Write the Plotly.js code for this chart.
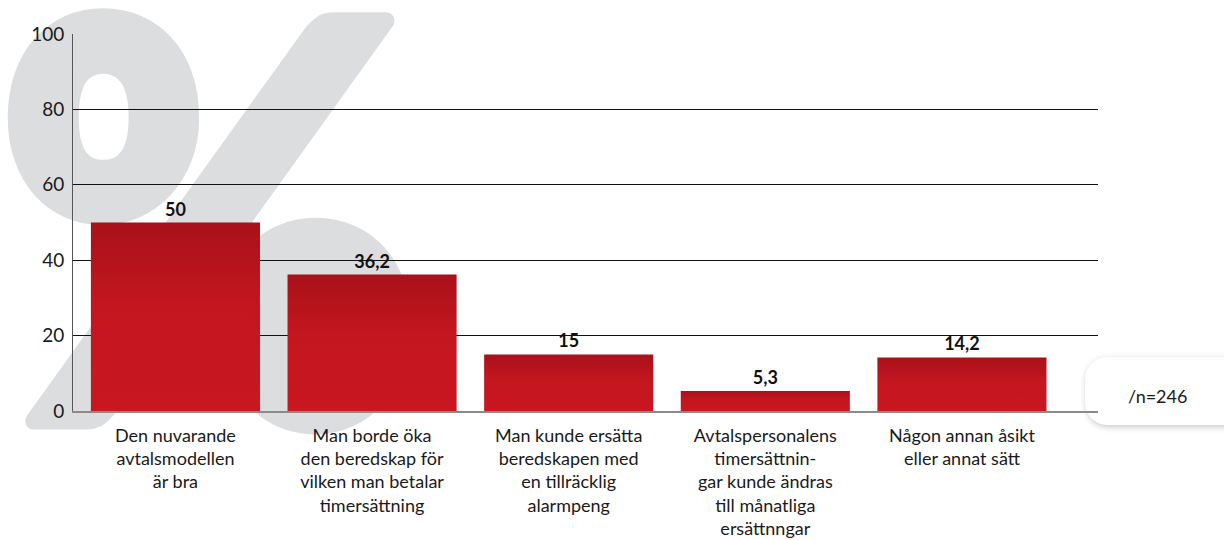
<!DOCTYPE html>
<html>
<head>
<meta charset="utf-8">
<script src="https://cdn.plot.ly/plotly-3.0.1.min.js"></script>
<style>
  html, body { margin: 0; padding: 0; background: #fff; }
  #wrap { position: relative; width: 1224px; height: 540px; overflow: hidden; background: #fff; }
  #wm { position: absolute; left: 0; top: 0; width: 1224px; height: 540px; z-index: 0; }
  #nbox { position: absolute; left: 1085px; top: 357px; width: 160px; height: 68px; border-radius: 22px;
          background: #fff; box-shadow: 1px 2px 6px rgba(0,0,0,0.22); z-index: 0; }
  #chart { position: absolute; left: 0; top: 0; width: 1224px; height: 540px; z-index: 1; }
</style>
</head>
<body>
<div id="wrap">
  <svg id="wm" xmlns="http://www.w3.org/2000/svg" width="1224" height="540"><text id="wmText" fill="#DCDDDE" stroke="#DCDDDE" stroke-linejoin="round">%</text></svg>
  <div id="nbox"></div>
  <div id="chart"></div>
</div>
<script>
const categories = [
  "Den nuvarande<br>avtalsmodellen<br>är bra",
  "Man borde öka<br>den beredskap för<br>vilken man betalar<br>timersättning",
  "Man kunde ersätta<br>beredskapen med<br>en tillräcklig<br>alarmpeng",
  "Avtalspersonalens<br>timersättnin-<br>gar kunde ändras<br>till månatliga<br>ersättnngar",
  "Någon annan åsikt<br>eller annat sätt"
];
const values = [50, 36.2, 15, 5.3, 14.2];
const valueLabels = ["50", "36,2", "15", "5,3", "14,2"];
const yTicks = [0, 20, 40, 60, 80, 100];
const nLabel = "/n=246";
const watermark = "%";

// Fit the decorative "%" glyph into its area behind the plot
(function () {
  const fam = "Lato, 'Open Sans', sans-serif";
  const weight = 900;
  const sw = 16; // stroke thickening
  const box = { x0: 5 + sw / 2, y0: 8 + sw / 2, x1: 415 - sw / 2, y1: 432 - sw / 2 };
  const cv = document.createElement("canvas");
  const ctx = cv.getContext("2d");
  ctx.font = weight + " 100px " + fam;
  let m = ctx.measureText(watermark);
  const h100 = m.actualBoundingBoxAscent + m.actualBoundingBoxDescent;
  const fs = 100 * (box.y1 - box.y0) / h100;
  ctx.font = weight + " " + fs + "px " + fam;
  m = ctx.measureText(watermark);
  const inkL = -m.actualBoundingBoxLeft, inkR = m.actualBoundingBoxRight;
  const sx = (box.x1 - box.x0) / (inkR - inkL);
  const tx = box.x0 - sx * inkL;
  const ty = box.y0 + m.actualBoundingBoxAscent;
  const t = document.getElementById("wmText");
  t.textContent = watermark;
  t.setAttribute("font-family", fam);
  t.setAttribute("font-weight", weight);
  t.setAttribute("font-size", fs);
  t.setAttribute("stroke-width", sw / sx);
  t.setAttribute("transform", "translate(" + tx + "," + ty + ") scale(" + sx + ",1)");
})();

const trace = {
  type: "bar",
  x: categories,
  y: values,
  text: valueLabels,
  textposition: "outside",
  cliponaxis: false,
  textfont: { family: "Lato, sans-serif", size: 18, color: "#111", weight: 700 },
  marker: { color: "#C3151E", line: { width: 0 } },
  width: 0.86,
  hoverinfo: "skip"
};

const layout = {
  width: 1224, height: 540,
  margin: { l: 73, r: 126, t: 34, b: 129, pad: 0 },
  paper_bgcolor: "rgba(0,0,0,0)",
  plot_bgcolor: "rgba(0,0,0,0)",
  showlegend: false,
  xaxis: {
    type: "category",
    range: [-0.521, 4.692],
    showgrid: false,
    showline: true, linecolor: "#8a8a8a", linewidth: 2,
    ticks: "", ticklabelstandoff: 7,
    tickfont: { family: "Lato, sans-serif", size: 18, color: "#1a1a1a" },
    tickangle: 0,
    automargin: false
  },
  yaxis: {
    range: [0, 100],
    tickvals: yTicks,
    ticktext: yTicks.map(String),
    showgrid: true, gridcolor: "#111", gridwidth: 1,
    zeroline: false,
    showline: true, linecolor: "#555", linewidth: 1,
    ticks: "", ticklabelstandoff: 4,
    tickfont: { family: "Lato, sans-serif", size: 19, color: "#1a1a1a" },
    automargin: false
  },
  annotations: [{
    xref: "paper", yref: "paper", x: 1.0585, y: 0.0398,
    xanchor: "center", yanchor: "middle",
    text: nLabel, showarrow: false,
    font: { family: "Lato, sans-serif", size: 18, color: "#1a1a1a" }
  }]
};

Plotly.newPlot("chart", [trace], layout, { displayModeBar: false, staticPlot: true }).then(function (gd) {
  const svg = gd.querySelector("svg.main-svg");
  const ns = "http://www.w3.org/2000/svg";
  let defs = svg.querySelector("defs");
  if (!defs) { defs = document.createElementNS(ns, "defs"); svg.insertBefore(defs, svg.firstChild); }
  const g = document.createElementNS(ns, "linearGradient");
  g.setAttribute("id", "barGrad");
  g.setAttribute("x1", "0"); g.setAttribute("y1", "0"); g.setAttribute("x2", "0"); g.setAttribute("y2", "1");
  [["0", "#A9111A"], ["0.45", "#C4161F"], ["1", "#C8171F"]].forEach(function (s) {
    const st = document.createElementNS(ns, "stop");
    st.setAttribute("offset", s[0]); st.setAttribute("stop-color", s[1]);
    g.appendChild(st);
  });
  defs.appendChild(g);
  gd.querySelectorAll(".bars .point path").forEach(function (p) { p.style.fill = "url(#barGrad)"; });
});
</script>
</body>
</html>
